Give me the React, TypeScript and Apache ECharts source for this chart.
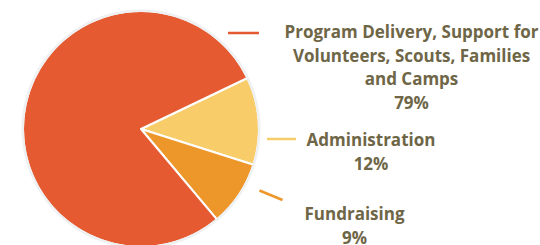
import React, { useEffect, useRef } from "react";
import * as echarts from "echarts";

const categories = [
  "Administration",
  "Fundraising",
  "Program Delivery, Support for\nVolunteers, Scouts, Families\nand Camps",
];
const values = [12, 9, 79];
const colors = ["#f7cc69", "#ed962a", "#e55a30"];
// label anchor (center) positions, in px
const labelPos: [number, number][] = [
  [371, 151.7],
  [354.5, 225.3],
  [411.5, 67.2],
];
// short leader line segments
const leaderLines: [number, number, number, number][] = [
  [267, 139, 296, 139],
  [259.5, 190.5, 282.5, 200],
  [228, 33, 259, 33],
];

export default function App() {
  const ref = useRef<HTMLDivElement>(null);
  useEffect(() => {
    if (!ref.current) return;
    const chart = echarts.init(ref.current, null, { renderer: "svg" });
    const font = "'Open Sans', Lato, sans-serif";
    chart.setOption({
      animation: false,
      backgroundColor: "#ffffff",
      series: [
        {
          type: "pie",
          center: [141, 129],
          radius: [0, 118],
          startAngle: 25.6,
          clockwise: true,
          silent: true,
          avoidLabelOverlap: false,
          itemStyle: { borderColor: "#ffffff", borderWidth: 2 },
          label: {
            show: true,
            position: "outside",
            overflow: "none",
            formatter: (p: any) => `${p.name}\n${p.value}%`,
            fontFamily: font,
            fontWeight: "bold",
            fontSize: 17,
            lineHeight: 23.5,
            color: "#6e6646",
            align: "center",
          },
          labelLine: { show: false },
          labelLayout: (p: any) => ({
            x: labelPos[p.dataIndex][0],
            y: labelPos[p.dataIndex][1],
            align: "center",
            verticalAlign: "middle",
            hideOverlap: false,
          }),
          data: categories.map((c, i) => ({
            name: c,
            value: values[i],
            itemStyle: { color: colors[i] },
          })),
        },
        {
          type: "pie",
          center: [141, 129],
          radius: [117, 119.5],
          silent: true,
          label: { show: false },
          labelLine: { show: false },
          itemStyle: { color: "#eef0f2" },
          data: [{ name: "ring", value: 1 }],
        },
      ],
      graphic: leaderLines.map((l, i) => ({
        type: "line",
        shape: { x1: l[0], y1: l[1], x2: l[2], y2: l[3] },
        style: { stroke: colors[i], lineWidth: 2.5 },
        silent: true,
      })),
    });
    return () => chart.dispose();
  }, []);
  return (
    <div
      ref={ref}
      style={{ position: "fixed", left: 0, top: 0, width: 540, height: 245 }}
    />
  );
}
